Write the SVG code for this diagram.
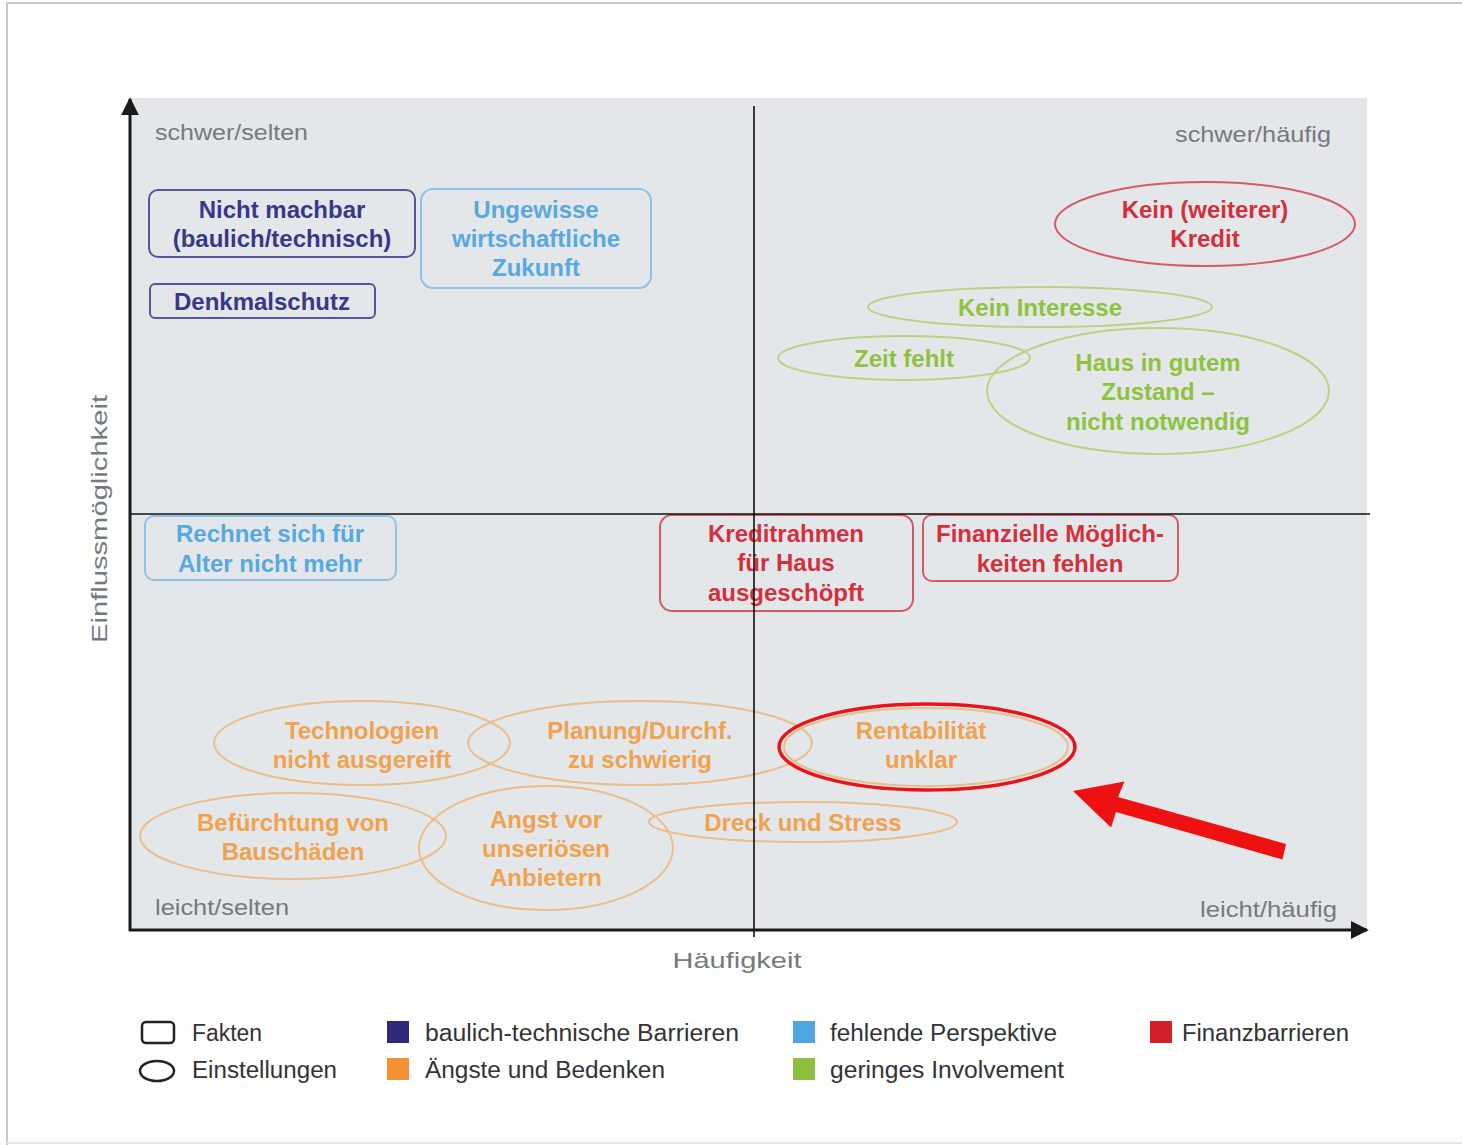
<svg xmlns="http://www.w3.org/2000/svg" width="1462" height="1145" viewBox="0 0 1462 1145">
<style>
  .n { font-family: "Liberation Sans", Arial, sans-serif; font-weight: bold; font-size: 24px; text-anchor: middle; dominant-baseline: central; }
  .lbl { font-family: "Liberation Sans", Arial, sans-serif; font-size: 22px; fill: #76797d; dominant-baseline: central; }
  .leg { font-family: "Liberation Sans", Arial, sans-serif; font-size: 23px; fill: #333; dominant-baseline: central; }
  .box { fill: none; stroke-width: 2; }
  .blueD { stroke: #55559a; } .tblueD { fill: #383888; }
  .blueL { stroke: #8ec3e8; } .tblueL { fill: #58a9de; }
  .red { stroke: #d45a66; } .tred { fill: #d2303c; }
  .green { stroke: #b8d480; } .tgreen { fill: #8ec340; }
  .orange { stroke: #ebbd88; } .torange { fill: #f0a24e; }
</style>
<defs>
  <marker id="ah" viewBox="0 0 10 10" refX="9" refY="5" markerWidth="6" markerHeight="6" orient="auto">
    <path d="M0,0 L10,5 L0,10 z" fill="#1a1a1a"/>
  </marker>
</defs>
<rect width="1462" height="1145" fill="#ffffff"/>
<g id="frame" stroke="#c9c9c9" stroke-width="2" fill="none">
  <line x1="6" y1="3" x2="1462" y2="3"/>
  <line x1="7" y1="3" x2="7" y2="1145"/>
  <line x1="7" y1="1143" x2="1462" y2="1143" stroke="#e6e6e6"/>
</g>
<rect id="plot-bg" x="130" y="98" width="1237" height="832" fill="#e4e7ea"/>

<g id="corner-labels">
  <text class="lbl" x="155" y="132" textLength="153" lengthAdjust="spacingAndGlyphs">schwer/selten</text>
  <text class="lbl" x="1175" y="134" textLength="156" lengthAdjust="spacingAndGlyphs">schwer/häufig</text>
  <text class="lbl" x="155" y="907" textLength="134" lengthAdjust="spacingAndGlyphs">leicht/selten</text>
  <text class="lbl" x="1200" y="909" textLength="137" lengthAdjust="spacingAndGlyphs">leicht/häufig</text>
</g>

<g id="node-nicht-machbar">
  <rect class="box blueD" x="149" y="190" width="266" height="67" rx="9"/>
  <text class="n tblueD" x="282" y="209">Nicht machbar</text>
  <text class="n tblueD" x="282" y="238">(baulich/technisch)</text>
</g>
<g id="node-ungewisse">
  <rect class="box blueL" x="421" y="189" width="230" height="99" rx="12"/>
  <text class="n tblueL" x="536" y="209">Ungewisse</text>
  <text class="n tblueL" x="536" y="238">wirtschaftliche</text>
  <text class="n tblueL" x="536" y="267">Zukunft</text>
</g>
<g id="node-denkmalschutz">
  <rect class="box blueD" x="150" y="284" width="225" height="34" rx="5"/>
  <text class="n tblueD" x="262" y="301">Denkmalschutz</text>
</g>
<g id="node-kein-kredit">
  <ellipse class="box red" cx="1205" cy="224" rx="150" ry="42"/>
  <text class="n tred" x="1205" y="209">Kein (weiterer)</text>
  <text class="n tred" x="1205" y="238">Kredit</text>
</g>
<g id="node-kein-interesse">
  <ellipse class="box green" cx="1040" cy="307" rx="172" ry="20"/>
  <text class="n tgreen" x="1040" y="307">Kein Interesse</text>
</g>
<g id="node-zeit-fehlt">
  <ellipse class="box green" cx="904" cy="358" rx="126" ry="22"/>
  <text class="n tgreen" x="904" y="358">Zeit fehlt</text>
</g>
<g id="node-haus">
  <ellipse class="box green" cx="1158" cy="391" rx="171" ry="63"/>
  <text class="n tgreen" x="1158" y="362">Haus in gutem</text>
  <text class="n tgreen" x="1158" y="391">Zustand –</text>
  <text class="n tgreen" x="1158" y="421">nicht notwendig</text>
</g>
<g id="node-rechnet">
  <rect class="box blueL" x="145" y="516" width="251" height="64" rx="9"/>
  <text class="n tblueL" x="270" y="533">Rechnet sich für</text>
  <text class="n tblueL" x="270" y="563">Alter nicht mehr</text>
</g>
<g id="node-kreditrahmen">
  <rect class="box red" x="660" y="515" width="253" height="96" rx="12"/>
  <text class="n tred" x="786" y="533">Kreditrahmen</text>
  <text class="n tred" x="786" y="562">für Haus</text>
  <text class="n tred" x="786" y="592">ausgeschöpft</text>
</g>
<g id="node-finanzielle">
  <rect class="box red" x="923" y="515" width="255" height="66" rx="9"/>
  <text class="n tred" x="1050" y="533">Finanzielle Möglich-</text>
  <text class="n tred" x="1050" y="563">keiten fehlen</text>
</g>
<g id="node-technologien">
  <ellipse class="box orange" cx="362" cy="743" rx="148" ry="42"/>
  <text class="n torange" x="362" y="730">Technologien</text>
  <text class="n torange" x="362" y="759">nicht ausgereift</text>
</g>
<g id="node-planung">
  <ellipse class="box orange" cx="640" cy="743" rx="172" ry="42"/>
  <text class="n torange" x="640" y="730">Planung/Durchf.</text>
  <text class="n torange" x="640" y="759">zu schwierig</text>
</g>
<g id="node-rentabilitaet">
  <ellipse class="box orange" cx="926" cy="747" rx="142" ry="39"/>
  <text class="n torange" x="921" y="730">Rentabilität</text>
  <text class="n torange" x="921" y="759">unklar</text>
</g>
<g id="node-befuerchtung">
  <ellipse class="box orange" cx="293" cy="836" rx="153" ry="43"/>
  <text class="n torange" x="293" y="822">Befürchtung von</text>
  <text class="n torange" x="293" y="851">Bauschäden</text>
</g>
<g id="node-angst">
  <ellipse class="box orange" cx="546" cy="848" rx="127" ry="62"/>
  <text class="n torange" x="546" y="819">Angst vor</text>
  <text class="n torange" x="546" y="848">unseriösen</text>
  <text class="n torange" x="546" y="877">Anbietern</text>
</g>
<g id="node-dreck">
  <ellipse class="box orange" cx="803" cy="822" rx="154" ry="20"/>
  <text class="n torange" x="803" y="822">Dreck und Stress</text>
</g>

<g id="connectors">
  <line x1="754" y1="106" x2="754" y2="937" stroke="#111" stroke-width="1.6"/>
  <line x1="130" y1="514" x2="1370" y2="514" stroke="#111" stroke-width="1.6"/>
  <line x1="130" y1="931" x2="130" y2="99" stroke="#1a1a1a" stroke-width="3" marker-end="url(#ah)"/>
  <line x1="129" y1="930" x2="1367" y2="930" stroke="#1a1a1a" stroke-width="3" marker-end="url(#ah)"/>
</g>

<g id="axis-labels">
  <text class="lbl" x="737" y="960" font-size="25" text-anchor="middle" textLength="129" lengthAdjust="spacingAndGlyphs">Häufigkeit</text>
  <text class="lbl" x="0" y="0" font-size="25" text-anchor="middle" transform="translate(99 519) rotate(-90)" textLength="248" lengthAdjust="spacingAndGlyphs">Einflussmöglichkeit</text>
</g>

<g id="highlight">
  <ellipse cx="927" cy="747" rx="148" ry="43" fill="none" stroke="#e8141c" stroke-width="3.5"/>
  <polygon points="1286,844 1282.5,859.5 1116,812 1111,827.6 1073,791 1124.5,781.6 1118,797" fill="#ee1111"/>
</g>

<g id="legend">
  <rect x="142" y="1022" width="32" height="21" rx="4" fill="none" stroke="#222" stroke-width="2.5"/>
  <text class="leg" x="192" y="1033" textLength="70" lengthAdjust="spacingAndGlyphs">Fakten</text>
  <ellipse cx="157" cy="1071" rx="17" ry="10" fill="none" stroke="#222" stroke-width="2.5"/>
  <text class="leg" x="192" y="1070" textLength="145" lengthAdjust="spacingAndGlyphs">Einstellungen</text>
  <rect x="387" y="1021" width="22" height="22" fill="#2e2a78"/>
  <text class="leg" x="425" y="1033" textLength="314" lengthAdjust="spacingAndGlyphs">baulich-technische Barrieren</text>
  <rect x="387" y="1058" width="22" height="22" fill="#f39233"/>
  <text class="leg" x="425" y="1070" textLength="240" lengthAdjust="spacingAndGlyphs">Ängste und Bedenken</text>
  <rect x="793" y="1021" width="22" height="22" fill="#4fa6e0"/>
  <text class="leg" x="830" y="1033" textLength="227" lengthAdjust="spacingAndGlyphs">fehlende Perspektive</text>
  <rect x="793" y="1058" width="22" height="22" fill="#8dc040"/>
  <text class="leg" x="830" y="1070" textLength="234" lengthAdjust="spacingAndGlyphs">geringes Involvement</text>
  <rect x="1150" y="1021" width="22" height="22" fill="#d42028"/>
  <text class="leg" x="1182" y="1033" textLength="167" lengthAdjust="spacingAndGlyphs">Finanzbarrieren</text>
</g>
</svg>
